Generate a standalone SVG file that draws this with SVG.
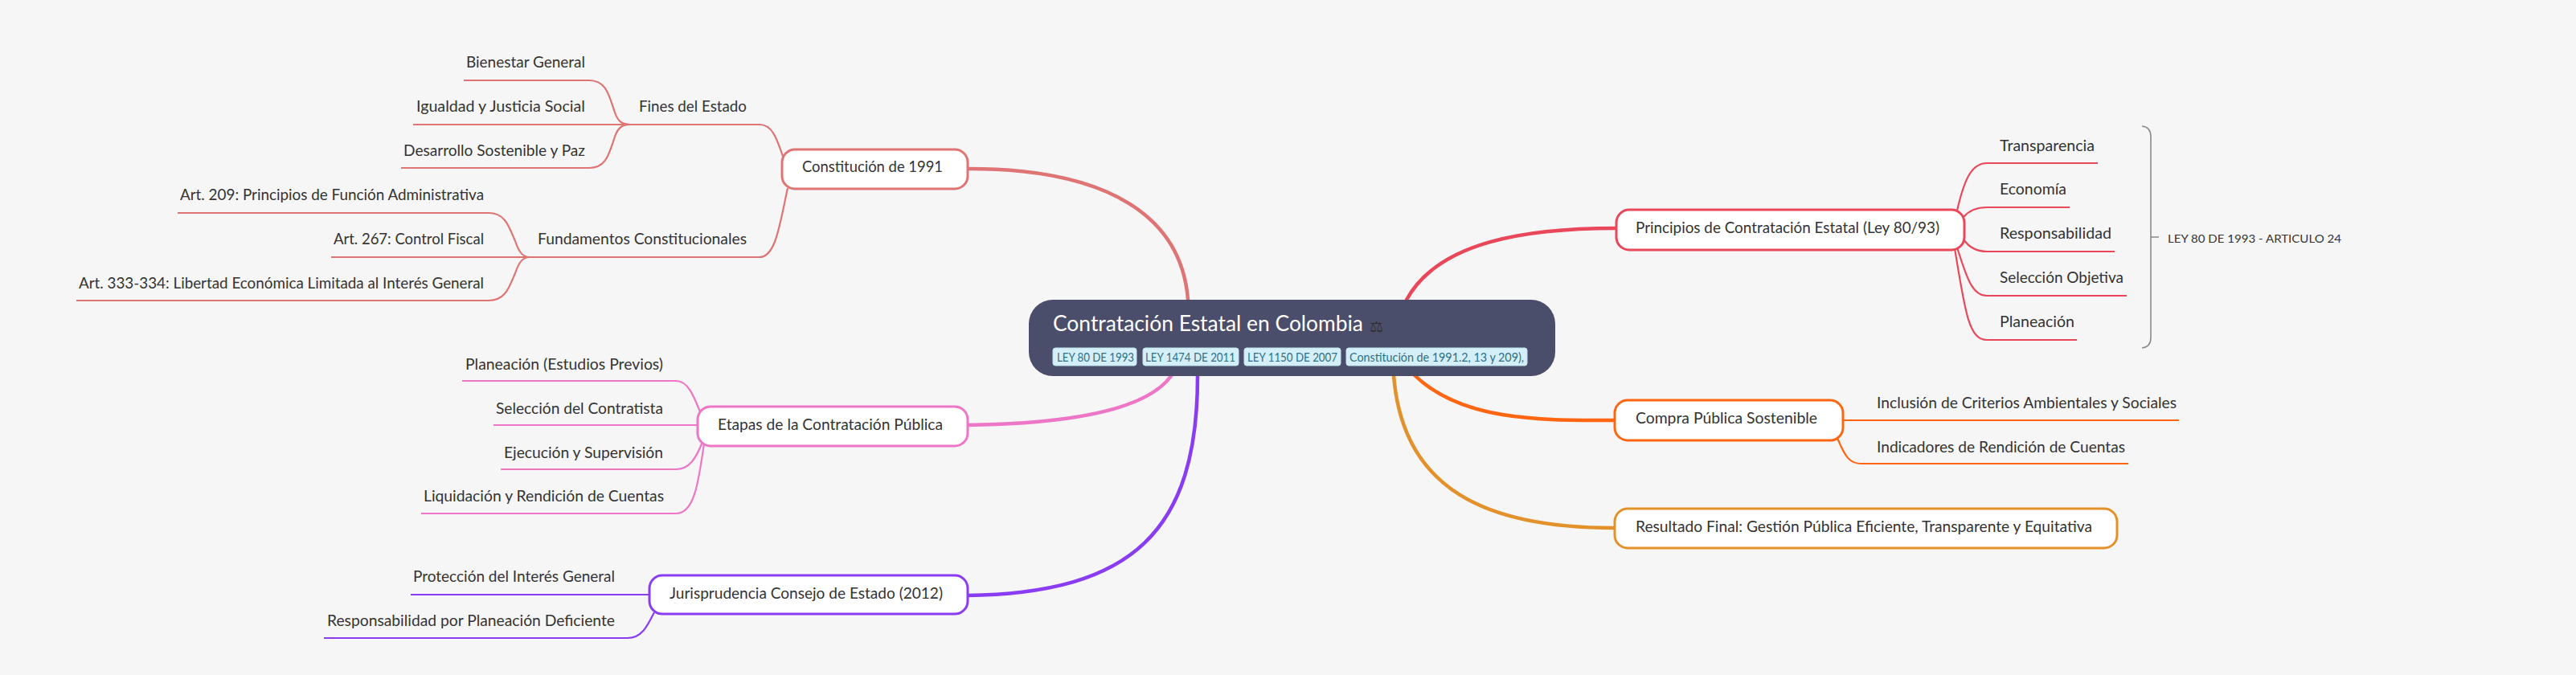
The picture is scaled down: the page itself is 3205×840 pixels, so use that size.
<svg xmlns="http://www.w3.org/2000/svg" width="3205" height="840" viewBox="0 0 3205 840">
<style>
text{font-family:Lato,"Open Sans","Liberation Sans",sans-serif;fill:#333;}
.lf{font-size:19px;}
.bx{font-size:19px;}
.box{fill:#fff;stroke-width:3;}
.main{fill:none;stroke-width:4.5;stroke-linecap:round;}
.leaf{fill:none;stroke-width:2.2;}
.tag{fill:#d5eff8;stroke:#bfe3ef;stroke-width:1;}
.tagt{font-size:15px;fill:#2d6f88;}
.c1{stroke:#df7474;} .c2{stroke:#ee76c6;} .c3{stroke:#8a3cf2;} .c4{stroke:#e8485a;} .c5{stroke:#ff6612;} .c6{stroke:#e3912a;}
</style>
<rect width="3205" height="840" fill="#f6f6f6"/>
<g id="connectors">
  <path class="main c1" d="M1205,210 C1380,210 1470,270 1478,373"/>
  <path class="main c2" d="M1204,529 C1350,527 1430,505 1457,468"/>
  <path class="main c3" d="M1204,741 C1410,738 1490,660 1490,468"/>
  <path class="main c4" d="M1750,373 C1790,300 1900,284 2011,284"/>
  <path class="main c5" d="M1760,467 C1820,525 1920,523 2009,523"/>
  <path class="main c6" d="M1734,467 C1745,610 1850,657 2009,657"/>
  <!-- Constitucion -->
  <path class="leaf c1" d="M945,155 C964,155 968,180 978,205"/>
  <path class="leaf c1" d="M945,320 C965,320 970,280 980,234"/>
  <path class="leaf c1" d="M784,155 L945,155"/>
  <path class="leaf c1" d="M659,320 L945,320"/>
  <path class="leaf c1" d="M577,100 L733,100 C755,100 758,120 765,140 C769,152 775,155 784,155"/>
  <path class="leaf c1" d="M514,155 L784,155"/>
  <path class="leaf c1" d="M499,209 L733,209 C755,209 758,190 765,170 C769,158 775,155 784,155"/>
  <path class="leaf c1" d="M221,265 L608,265 C630,265 634,285 641,300 C646,315 651,320 659,320"/>
  <path class="leaf c1" d="M412,320 L659,320"/>
  <path class="leaf c1" d="M95,374 L608,374 C630,374 634,355 641,340 C646,325 651,320 659,320"/>
  <!-- Etapas -->
  <path class="leaf c2" d="M575,474 L841,474 C856,474 863,492 872,515"/>
  <path class="leaf c2" d="M614,529 L868,529"/>
  <path class="leaf c2" d="M623,584 L841,584 C858,584 866,570 874,550"/>
  <path class="leaf c2" d="M524,639 L841,639 C864,639 869,600 876,552"/>
  <!-- Jurisprudencia -->
  <path class="leaf c3" d="M511,740 L808,740"/>
  <path class="leaf c3" d="M403,794 L781,794 C798,794 805,780 814,762"/>
  <!-- Principios -->
  <path class="leaf c4" d="M2435,262 C2445,218 2455,203 2472,203 L2610,203"/>
  <path class="leaf c4" d="M2443,270 C2450,262 2460,258 2472,258 L2575,258"/>
  <path class="leaf c4" d="M2443,298 C2450,308 2460,313 2472,313 L2631,313"/>
  <path class="leaf c4" d="M2435,308 C2448,350 2455,368 2472,368 L2646,368"/>
  <path class="leaf c4" d="M2432,309 C2445,390 2450,423 2472,423 L2584,423"/>
  <!-- Compra -->
  <path class="leaf c5" d="M2293,523 L2711,523"/>
  <path class="leaf c5" d="M2286,545 C2296,570 2302,577 2316,577 L2648,577"/>
  <!-- brace -->
  <path d="M2665,157 Q2676,158 2676,170 L2676,420 Q2676,432 2665,433 M2676,295 L2686,295" fill="none" stroke="#8a8a8a" stroke-width="1.6"/>
</g>
<g id="central">
  <rect x="1280" y="373" width="655" height="95" rx="30" fill="#4b4e6a"/>
  <text x="1310" y="412" font-size="27" style="fill:#fff" textLength="386" lengthAdjust="spacingAndGlyphs">Contratación Estatal en Colombia</text>
  <text x="1704" y="413" font-size="19" style="fill:#2e2e2e;font-family:'DejaVu Sans',sans-serif">⚖</text>
  <rect class="tag" x="1310" y="433" width="104" height="22" rx="3"/>
  <text class="tagt" x="1315" y="450" textLength="96" lengthAdjust="spacingAndGlyphs">LEY 80 DE 1993</text>
  <rect class="tag" x="1422" y="433" width="119" height="22" rx="3"/>
  <text class="tagt" x="1425" y="450" textLength="112" lengthAdjust="spacingAndGlyphs">LEY 1474 DE 2011</text>
  <rect class="tag" x="1548" y="433" width="120" height="22" rx="3"/>
  <text class="tagt" x="1552" y="450" textLength="112" lengthAdjust="spacingAndGlyphs">LEY 1150 DE 2007</text>
  <rect class="tag" x="1675" y="433" width="225" height="22" rx="3"/>
  <text class="tagt" x="1679" y="450" textLength="217" lengthAdjust="spacingAndGlyphs">Constitución de 1991.2, 13 y 209),</text>
</g>
<g id="constitucion">
  <rect class="box c1" x="973" y="186" width="231" height="49" rx="16"/>
  <text class="bx" x="998" y="214" textLength="175" lengthAdjust="spacingAndGlyphs">Constitución de 1991</text>
</g>
<g id="fines">
  <text class="lf" x="795" y="139" textLength="134" lengthAdjust="spacingAndGlyphs">Fines del Estado</text>
</g>
<g id="bienestar"><text class="lf" x="580" y="84" textLength="148" lengthAdjust="spacingAndGlyphs">Bienestar General</text></g>
<g id="igualdad"><text class="lf" x="518" y="139" textLength="210" lengthAdjust="spacingAndGlyphs">Igualdad y Justicia Social</text></g>
<g id="desarrollo"><text class="lf" x="502" y="194" textLength="226" lengthAdjust="spacingAndGlyphs">Desarrollo Sostenible y Paz</text></g>
<g id="fundamentos"><text class="lf" x="669" y="304" textLength="260" lengthAdjust="spacingAndGlyphs">Fundamentos Constitucionales</text></g>
<g id="art209"><text class="lf" x="224" y="249" textLength="378" lengthAdjust="spacingAndGlyphs">Art. 209: Principios de Función Administrativa</text></g>
<g id="art267"><text class="lf" x="415" y="304" textLength="187" lengthAdjust="spacingAndGlyphs">Art. 267: Control Fiscal</text></g>
<g id="art333"><text class="lf" x="98" y="359" textLength="504" lengthAdjust="spacingAndGlyphs">Art. 333-334: Libertad Económica Limitada al Interés General</text></g>
<g id="etapas">
  <rect class="box c2" x="868" y="506" width="336" height="49" rx="16"/>
  <text class="bx" x="893" y="535" textLength="280" lengthAdjust="spacingAndGlyphs">Etapas de la Contratación Pública</text>
</g>
<g id="planeacion1"><text class="lf" x="579" y="460" textLength="246" lengthAdjust="spacingAndGlyphs">Planeación (Estudios Previos)</text></g>
<g id="seleccion1"><text class="lf" x="617" y="515" textLength="208" lengthAdjust="spacingAndGlyphs">Selección del Contratista</text></g>
<g id="ejecucion"><text class="lf" x="627" y="570" textLength="198" lengthAdjust="spacingAndGlyphs">Ejecución y Supervisión</text></g>
<g id="liquidacion"><text class="lf" x="527" y="624" textLength="299" lengthAdjust="spacingAndGlyphs">Liquidación y Rendición de Cuentas</text></g>
<g id="jurisprudencia">
  <rect class="box c3" x="808" y="716" width="396" height="48" rx="16"/>
  <text class="bx" x="833" y="745" textLength="340" lengthAdjust="spacingAndGlyphs">Jurisprudencia Consejo de Estado (2012)</text>
</g>
<g id="proteccion"><text class="lf" x="514" y="724" textLength="251" lengthAdjust="spacingAndGlyphs">Protección del Interés General</text></g>
<g id="responsabilidad1"><text class="lf" x="407" y="779" textLength="358" lengthAdjust="spacingAndGlyphs">Responsabilidad por Planeación Deficiente</text></g>
<g id="principios">
  <rect class="box c4" x="2011" y="261" width="433" height="50" rx="16"/>
  <text class="bx" x="2035" y="290" textLength="378" lengthAdjust="spacingAndGlyphs">Principios de Contratación Estatal (Ley 80/93)</text>
</g>
<g id="transparencia"><text class="lf" x="2488" y="188" textLength="118" lengthAdjust="spacingAndGlyphs">Transparencia</text></g>
<g id="economia"><text class="lf" x="2488" y="242" textLength="83" lengthAdjust="spacingAndGlyphs">Economía</text></g>
<g id="responsabilidad2"><text class="lf" x="2488" y="297" textLength="139" lengthAdjust="spacingAndGlyphs">Responsabilidad</text></g>
<g id="seleccion2"><text class="lf" x="2488" y="352" textLength="154" lengthAdjust="spacingAndGlyphs">Selección Objetiva</text></g>
<g id="planeacion2"><text class="lf" x="2488" y="407" textLength="93" lengthAdjust="spacingAndGlyphs">Planeación</text></g>
<g id="ley80"><text x="2697" y="302" font-size="14" textLength="216" lengthAdjust="spacingAndGlyphs">LEY 80 DE 1993 - ARTICULO 24</text></g>
<g id="compra">
  <rect class="box c5" x="2009" y="498" width="284" height="50" rx="16"/>
  <text class="bx" x="2035" y="527" textLength="226" lengthAdjust="spacingAndGlyphs">Compra Pública Sostenible</text>
</g>
<g id="inclusion"><text class="lf" x="2335" y="508" textLength="373" lengthAdjust="spacingAndGlyphs">Inclusión de Criterios Ambientales y Sociales</text></g>
<g id="indicadores"><text class="lf" x="2335" y="563" textLength="309" lengthAdjust="spacingAndGlyphs">Indicadores de Rendición de Cuentas</text></g>
<g id="resultado">
  <rect class="box c6" x="2009" y="633" width="625" height="49" rx="16"/>
  <text class="bx" x="2035" y="662" textLength="568" lengthAdjust="spacingAndGlyphs">Resultado Final: Gestión Pública Eficiente, Transparente y Equitativa</text>
</g>
</svg>
